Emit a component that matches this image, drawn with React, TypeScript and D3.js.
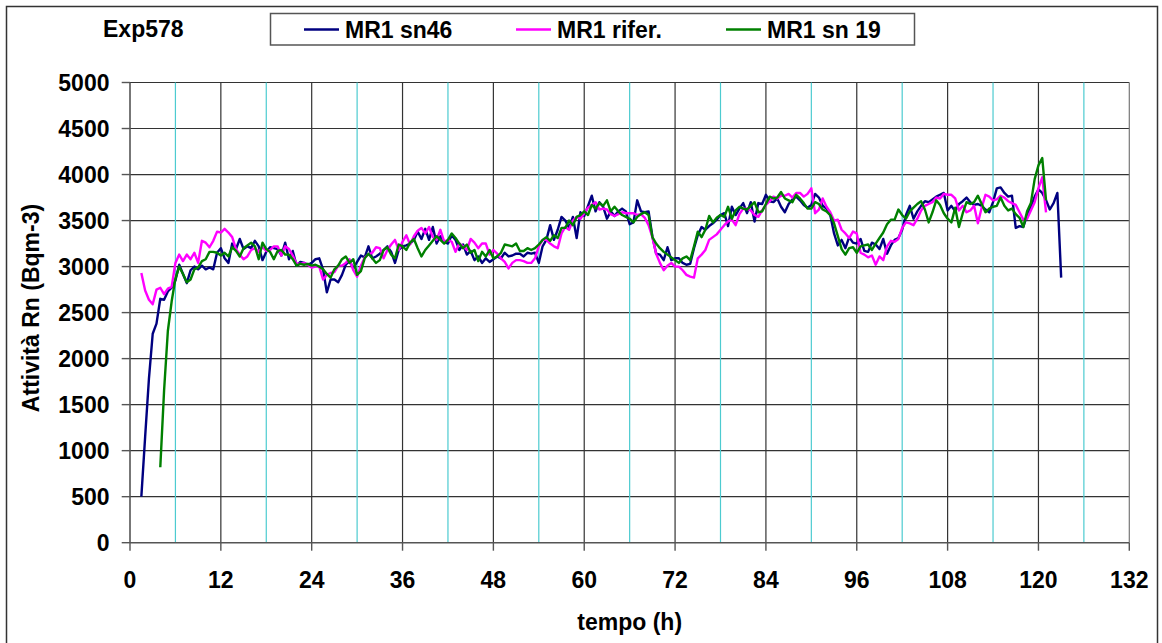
import React from "react";
import * as d3 from "d3";

const W = 1162;
const H = 643;

// sampling interval of the logged activity (hours)
const STEP = 0.5;

const chartTitle = "Exp578";
const xTitle = "tempo (h)";
const yTitle = "Attività Rn (Bqm-3)";

const xTicks = [0, 12, 24, 36, 48, 60, 72, 84, 96, 108, 120, 132];
const xMinorLines = [6, 18, 30, 42, 54, 66, 78, 90, 102, 114, 126];
const yTicks = [0, 500, 1000, 1500, 2000, 2500, 3000, 3500, 4000, 4500, 5000];

const seriesNames = ["MR1 sn46", "MR1 rifer.", "MR1 sn 19"];
const seriesColors = ["#000080", "#FF00FF", "#008000"];

// MR1 sn46, from 1.5 h
const sn46Start = 1.5;
const sn46 = [
  500, 1150, 1780, 2270, 2380, 2650, 2640, 2730, 2770, 2850,
  3020, 2920, 2820, 2960, 3000, 2970, 3010, 2970, 2990, 2970,
  3150, 3200, 3090, 3040, 3250, 3190, 3300, 3190, 3220, 3200,
  3280, 3220, 3070, 3160, 3210, 3200, 3190, 3120, 3260, 3080,
  3170, 3010, 3050, 3040, 3020, 3040, 3080, 3090, 2970, 2720,
  2860, 2860, 2830, 2910, 3020, 3060, 2980, 3050, 3120, 3100,
  3220, 3090, 3110, 3140, 3180, 3220, 3160, 3040, 3180, 3220,
  3230, 3250, 3290, 3380, 3300, 3410, 3290, 3430, 3250, 3330,
  3270, 3250, 3340, 3290, 3180, 3240, 3130, 3170, 3070, 3110,
  3040, 3090, 3050, 3080, 3110, 3090, 3150, 3110, 3120, 3140,
  3140, 3110, 3150, 3140, 3150, 3040, 3220, 3290, 3450, 3290,
  3400, 3540, 3500, 3420, 3540, 3310, 3590, 3550, 3660, 3770,
  3600, 3700, 3650, 3520, 3600, 3550, 3600, 3630, 3600, 3460,
  3480, 3720, 3600, 3590, 3600, 3330, 3140, 3130, 3070, 3210,
  3070, 3090, 3090, 3040, 3020, 3030, 3200, 3340, 3430, 3400,
  3440, 3470, 3510, 3560, 3580, 3440, 3650, 3560, 3630, 3690,
  3580, 3700, 3490, 3690, 3680, 3780, 3710, 3700, 3740, 3650,
  3590, 3680, 3730, 3760, 3720, 3670, 3640, 3670, 3790, 3750,
  3660, 3630, 3560, 3360, 3230, 3290, 3200, 3320, 3260, 3250,
  3300, 3170, 3160, 3260, 3240, 3190, 3300, 3140, 3230, 3290,
  3310, 3400, 3560, 3660, 3520, 3600, 3660, 3710, 3700, 3730,
  3760, 3780, 3800, 3610, 3660, 3600, 3680, 3710, 3750, 3700,
  3670, 3680, 3660, 3620, 3590, 3700, 3850, 3860, 3800, 3760,
  3770, 3420, 3440, 3430, 3560, 3650, 3760, 3840, 3800, 3720,
  3620, 3690, 3800, 2880,
];

// MR1 rifer., from 1.5 h
const riferStart = 1.5;
const rifer = [
  2930, 2740, 2640, 2590, 2750, 2770, 2700, 2760, 2780, 3040,
  3130, 3060, 3130, 3080, 3150, 3040, 3280, 3260, 3210, 3280,
  3380, 3370, 3410, 3370, 3320, 3190, 3130, 3080, 3110, 3180,
  3200, 3160, 3210, 3170, 3180, 3220, 3220, 3120, 3220, 3190,
  3120, 3030, 3030, 3040, 3020, 2990, 3000, 3000, 2860, 2910,
  2930, 2940, 3010, 3010, 3040, 3080, 2960, 2890, 3010, 3100,
  3130, 3150, 3210, 3200, 3090, 3180, 3240, 3290, 3180, 3270,
  3340, 3240, 3330, 3390, 3420, 3360, 3430, 3320, 3290, 3400,
  3270, 3290, 3270, 3160, 3250, 3220, 3180, 3300, 3260, 3200,
  3250, 3250, 3130, 3180, 3140, 3090, 3050, 2980, 3040, 3070,
  3070, 3060, 3040, 3040, 3090, 3220, 3290, 3290, 3250, 3220,
  3200, 3360, 3430, 3400, 3500, 3540, 3520, 3580, 3640, 3670,
  3700, 3620, 3630, 3620, 3570, 3550, 3570, 3590, 3580, 3580,
  3580, 3560, 3570, 3530, 3450, 3320, 3140, 3040, 2960, 3010,
  3040, 3000, 3000, 2960, 2910, 2890, 2880, 3090, 3130, 3180,
  3290, 3320, 3350, 3400, 3450, 3490, 3510, 3450, 3570, 3630,
  3630, 3610, 3560, 3540, 3610, 3670, 3710, 3760, 3740, 3770,
  3770, 3790, 3750, 3800, 3800, 3760, 3790, 3850, 3580, 3620,
  3740, 3650, 3590, 3500, 3510, 3400, 3360, 3310, 3380, 3360,
  3150, 3130, 3100, 3120, 3020, 3110, 3070, 3220, 3280, 3270,
  3300, 3420, 3480, 3470, 3450, 3520, 3610, 3660, 3680, 3700,
  3750, 3740, 3790, 3780, 3780, 3740, 3610, 3660, 3590, 3610,
  3660, 3470, 3640, 3780, 3760, 3720, 3730, 3770, 3750, 3710,
  3690, 3670, 3590, 3510, 3520, 3610, 3700, 3850, 3970, 3590,
];

// MR1 sn 19, from 4 h
const sn19Start = 4.0;
const sn19 = [
  820, 1650, 2300, 2620, 2870, 3000, 2920, 2830, 2860, 2970,
  2990, 3060, 3080, 3160, 3160, 3150, 3120, 3150, 3110, 3210,
  3170, 3110, 3200, 3230, 3260, 3220, 3080, 3260, 3190, 3160,
  3080, 3170, 3180, 3130, 3130, 3080, 3010, 3030, 3020, 3030,
  3010, 3020, 3000, 2970, 2920, 2880, 2970, 3010, 3080, 3110,
  3040, 3080, 2910, 2950, 3090, 3140, 3090, 3040, 3070, 3180,
  3210, 3130, 3090, 3240, 3220, 3180, 3260, 3300, 3200, 3110,
  3180, 3230, 3280, 3330, 3290, 3250, 3290, 3360, 3310, 3250,
  3200, 3240, 3150, 3180, 3060, 3160, 3110, 3180, 3090, 3110,
  3150, 3240, 3230, 3220, 3250, 3170, 3170, 3200, 3180, 3200,
  3240, 3290, 3320, 3280, 3340, 3310, 3420, 3420, 3500, 3450,
  3540, 3560, 3600, 3560, 3670, 3630, 3690, 3660, 3720, 3600,
  3650, 3600, 3560, 3540, 3520, 3480, 3540, 3570, 3590, 3560,
  3320, 3250, 3200, 3160, 3130, 3100, 3070, 3040, 3090, 3110,
  3070, 3220, 3380, 3320, 3400, 3550, 3480, 3530, 3560, 3540,
  3650, 3520, 3610, 3650, 3630, 3620, 3660, 3700, 3590, 3600,
  3680, 3760, 3740, 3750, 3810, 3740, 3720, 3700, 3780, 3740,
  3690, 3630, 3630, 3700, 3680, 3620, 3600, 3560, 3470, 3330,
  3190, 3130, 3200, 3210, 3150, 3220, 3230, 3240, 3180, 3250,
  3310, 3370, 3460, 3510, 3510, 3620, 3560, 3520, 3600, 3640,
  3680, 3710, 3620, 3480, 3590, 3720, 3670, 3580, 3520, 3480,
  3640, 3430, 3580, 3700, 3680, 3700, 3770, 3680, 3590, 3630,
  3650, 3660, 3750, 3660, 3610, 3630, 3570, 3530, 3430, 3600,
  3690, 3950, 4100, 4180, 3720,
];

const seriesStarts = [sn46Start, riferStart, sn19Start];
const seriesValues = [sn46, rifer, sn19];

const FONT = "'Liberation Sans', Arial, Helvetica, sans-serif";
const FS = 23;

export default function App() {
  const x = d3.scaleLinear().domain([0, 132]).range([130, 1129.3]);
  const y = d3.scaleLinear().domain([0, 5000]).range([542.7, 82.5]);

  const line = d3
    .line<[number, number]>()
    .x((d) => x(d[0]))
    .y((d) => y(d[1]));

  const paths = seriesValues.map((vals, s) =>
    line(vals.map((v, i) => [seriesStarts[s] + i * STEP, v] as [number, number]))
  );

  const [x0, x1] = x.range();
  const [y0, y1] = y.range();

  const legendX = [304, 516, 726];

  return (
    <svg
      width={W}
      height={H}
      viewBox={`0 0 ${W} ${H}`}
      style={{ position: "absolute", left: 0, top: 0, background: "#fff" }}
      fontFamily={FONT}
      fontWeight="bold"
    >
      <rect x={0} y={0} width={W} height={H} fill="#fff" />
      {/* outer chart frame */}
      <rect x={6.5} y={6.5} width={1151} height={H + 10} fill="none" stroke="#333" strokeWidth={1.5} />

      {/* title */}
      <text x={103} y={36.7} fontSize={FS} fill="#000">
        {chartTitle}
      </text>

      {/* legend */}
      <rect x={270.5} y={13.5} width={644} height={31.5} fill="#fff" stroke="#555" strokeWidth={1.5} />
      {seriesNames.map((name, i) => (
        <g key={name}>
          <line
            x1={legendX[i]}
            x2={legendX[i] + 35}
            y1={29.5}
            y2={29.5}
            stroke={seriesColors[i]}
            strokeWidth={2.5}
          />
          <text x={legendX[i] + 41} y={37.5} fontSize={FS} fill="#000">
            {name}
          </text>
        </g>
      ))}

      {/* horizontal gridlines */}
      {yTicks
        .filter((t) => t > 0)
        .map((t) => (
          <line key={`hy${t}`} x1={x0} x2={x1} y1={y(t)} y2={y(t)} stroke="#333" strokeWidth={1.2} />
        ))}
      {/* cyan intermediate verticals */}
      {xMinorLines.map((t) => (
        <line key={`mx${t}`} x1={x(t)} x2={x(t)} y1={y1} y2={y0} stroke="#4ccbd0" strokeWidth={1.2} />
      ))}
      {/* major verticals */}
      {xTicks
        .filter((t) => t > 0)
        .map((t) => (
          <line
            key={`vx${t}`}
            x1={x(t)}
            x2={x(t)}
            y1={y1}
            y2={y0}
            stroke={t === 132 ? "#777" : "#333"}
            strokeWidth={1.2}
          />
        ))}

      {/* axes */}
      <line x1={x0} x2={x0} y1={y1} y2={y0} stroke="#555" strokeWidth={1.6} />
      <line x1={x0} x2={x1} y1={y0} y2={y0} stroke="#555" strokeWidth={1.6} />
      {yTicks.map((t) => (
        <g key={`yt${t}`}>
          <line x1={x0 - 8.3} x2={x0} y1={y(t)} y2={y(t)} stroke="#555" strokeWidth={1.4} />
          <text x={109.5} y={y(t) + 8.3} fontSize={FS} textAnchor="end" fill="#000">
            {t}
          </text>
        </g>
      ))}
      {xTicks.map((t) => (
        <g key={`xt${t}`}>
          <line x1={x(t)} x2={x(t)} y1={y0} y2={y0 + 8} stroke="#555" strokeWidth={1.4} />
          <text x={x(t)} y={588.3} fontSize={FS} textAnchor="middle" fill="#000">
            {t}
          </text>
        </g>
      ))}

      {/* axis titles */}
      <text x={629.7} y={630} fontSize={FS} textAnchor="middle" fill="#000">
        {xTitle}
      </text>
      <text
        transform={`translate(39.4, 308) rotate(-90)`}
        fontSize={FS}
        textAnchor="middle"
        fill="#000"
      >
        {yTitle}
      </text>

      {/* series */}
      {paths.map((d, i) => (
        <path
          key={seriesNames[i]}
          d={d ?? ""}
          fill="none"
          stroke={seriesColors[i]}
          strokeWidth={2.4}
          strokeLinejoin="round"
        />
      ))}
    </svg>
  );
}
